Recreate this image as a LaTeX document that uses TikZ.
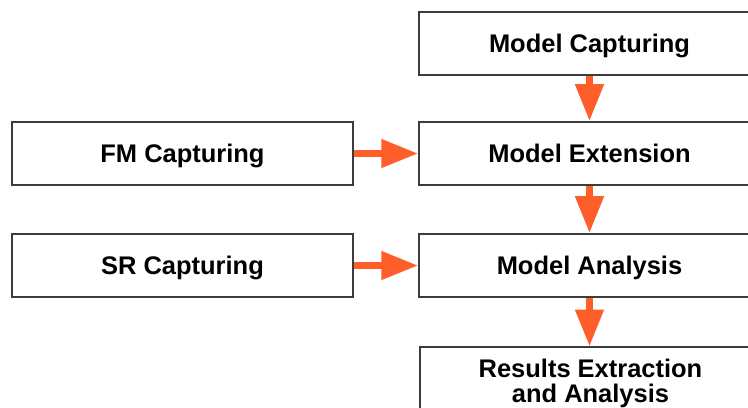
\documentclass[tikz,border=0pt]{standalone}
\usepackage{fontspec}
\setmainfont{Liberation Sans}
\usepackage{xcolor}
\usepackage{tikz}
\usetikzlibrary{arrows.meta}
\definecolor{flowarrow}{RGB}{255,94,42}
\definecolor{boxline}{RGB}{60,60,60}
\tikzset{
  stagebox/.style={draw=boxline, line width=1pt, fill=white, minimum width=6.82cm, minimum height=1.26cm,
    inner sep=2pt, align=center, text height=10.4pt, text depth=0pt,
    font=\fontsize{14.5}{14.2}\selectfont\bfseries},
  flow/.style={draw=flowarrow, line width=4pt, -{Triangle[length=21pt,width=15.5pt]}}
}

\begin{document}
\begin{tikzpicture}[x=0.02cm, y=-0.02cm]
    \useasboundingbox (0,0) rectangle (748,407);
    \node[stagebox] (capture) at (589.5,43.5)  {Model Capturing};
    \node[stagebox] (fm)      at (182.5,153.5) {FM Capturing};
    \node[stagebox] (extend)  at (589.5,153.5) {Model Extension};
    \node[stagebox] (sr)      at (182.5,265.5) {SR Capturing};
    \node[stagebox] (analyse) at (589.5,265.5) {Model Analysis};
    \node[stagebox, text height=, text depth=, minimum height=0pt, inner ysep=0.24cm]
      (results) at (590.5,383.7) {Results Extraction\\and Analysis};
    \draw[flow] (capture) -- (extend);
    \draw[flow] (extend) -- (analyse);
    \draw[flow] (analyse.south) -- (analyse.south |- results.north);
    \draw[flow] (fm) -- (extend);
    \draw[flow] (sr) -- (analyse);
\end{tikzpicture}
\end{document}
